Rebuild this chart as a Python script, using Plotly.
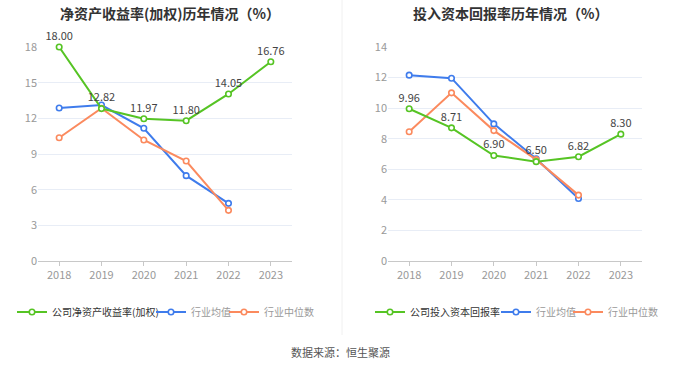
import plotly.graph_objects as go

years = ["2018", "2019", "2020", "2021", "2022", "2023"]

roe_company = [18.00, 12.82, 11.97, 11.80, 14.05, 16.76]
roe_ind_mean = [12.87, 13.12, 11.16, 7.18, 4.85, None]
roe_ind_median = [10.37, 12.85, 10.18, 8.41, 4.26, None]

roic_company = [9.96, 8.71, 6.90, 6.50, 6.82, 8.30]
roic_ind_mean = [12.16, 11.96, 8.97, 6.69, 4.09, None]
roic_ind_median = [8.46, 11.00, 8.53, 6.63, 4.31, None]

left_title = "净资产收益率(加权)历年情况（%）"
right_title = "投入资本回报率历年情况（%）"
left_names = ["公司净资产收益率(加权)", "行业均值", "行业中位数"]
right_names = ["公司投入资本回报率", "行业均值", "行业中位数"]
source_text = "数据来源：恒生聚源"

GREEN = "#56c424"
BLUE = "#3f7cec"
ORANGE = "#fb8a5e"
FONT = "Noto Sans CJK SC"
W, H = 680, 367

fig = go.Figure()


def add_series(y, name, color, xaxis, yaxis, legend, labels=False, dark=False):
    label_color = "#333333" if dark else "#999999"
    fig.add_trace(go.Scatter(
        x=years, y=y,
        name=f"<span style='color:{label_color}'>{name}</span>",
        mode="lines+markers+text" if labels else "lines+markers",
        text=[f"{v:.2f}" if v is not None else "" for v in y] if labels else None,
        textposition="top center",
        textfont=dict(size=11, color="#444444", family=FONT),
        line=dict(color=color, width=2),
        marker=dict(symbol="circle", size=5.5, color="white",
                    line=dict(color=color, width=1.6)),
        xaxis=xaxis, yaxis=yaxis, legend=legend,
        connectgaps=False, cliponaxis=False,
        hoverinfo="skip",
    ))


add_series(roe_ind_mean, left_names[1], BLUE, "x", "y", "legend2")
add_series(roe_ind_median, left_names[2], ORANGE, "x", "y", "legend3")
add_series(roe_company, left_names[0], GREEN, "x", "y", "legend", labels=True, dark=True)

add_series(roic_ind_mean, right_names[1], BLUE, "x2", "y2", "legend5")
add_series(roic_ind_median, right_names[2], ORANGE, "x2", "y2", "legend6")
add_series(roic_company, right_names[0], GREEN, "x2", "y2", "legend4", labels=True, dark=True)

ydom = [(H - 261) / H, (H - 47) / H]
xcommon = dict(type="category", range=[-0.5, 5.5], showgrid=False,
               showline=True, linecolor="#c8c8c8", linewidth=1,
               ticks="outside", ticklen=4, tickcolor="#c8c8c8",
               tickfont=dict(size=11, color="#999999", family=FONT),
               zeroline=False, fixedrange=True, automargin=False)
ycommon = dict(showgrid=True, gridcolor="#e8edf6", gridwidth=1,
               zeroline=False, showline=False, ticks="",
               tickfont=dict(size=11, color="#999999", family=FONT),
               fixedrange=True, automargin=False)


def leg(xpx):
    return dict(orientation="h", x=xpx / W, xanchor="left", y=(H - 312) / H,
                yanchor="middle", font=dict(size=10, family=FONT),
                bgcolor="rgba(0,0,0,0)", itemwidth=30)


fig.update_layout(
    width=W, height=H,
    margin=dict(l=0, r=0, t=0, b=0, autoexpand=False),
    paper_bgcolor="white", plot_bgcolor="white",
    font=dict(family=FONT, size=11, color="#333333"),
    xaxis=dict(domain=[38 / W, 292 / W], anchor="y", **xcommon),
    yaxis=dict(domain=ydom, anchor="x", range=[0, 18], dtick=3, **ycommon),
    xaxis2=dict(domain=[388 / W, 642 / W], anchor="y2", **xcommon),
    yaxis2=dict(domain=ydom, anchor="x2", range=[0, 14], dtick=2, **ycommon),
    legend=leg(50 - 38),
    legend2=leg(188 - 37),
    legend3=leg(261 - 37),
    legend4=leg(408 - 38),
    legend5=leg(533 - 37),
    legend6=leg(605 - 37),
    showlegend=True,
    annotations=[
        dict(text=f"<b>{left_title}</b>", x=170 / W, y=(H - 13) / H,
             xref="paper", yref="paper", showarrow=False,
             font=dict(size=14, color="#333333", family=FONT), xanchor="center", yanchor="middle"),
        dict(text=f"<b>{right_title}</b>", x=510 / W, y=(H - 13) / H,
             xref="paper", yref="paper", showarrow=False,
             font=dict(size=14, color="#333333", family=FONT), xanchor="center", yanchor="middle"),
        dict(text=source_text, x=340 / W, y=(H - 352) / H,
             xref="paper", yref="paper", showarrow=False,
             font=dict(size=11, color="#555555", family=FONT), xanchor="center", yanchor="middle"),
    ],
    shapes=[
        dict(type="line", xref="paper", yref="paper",
             x0=342 / W, x1=342 / W, y0=(H - 335) / H, y1=1,
             line=dict(color="#f0f0f0", width=1)),
    ],
)

fig.write_html("out.html", config={"displayModeBar": False},
               post_script="document.body.style.margin='0';")
